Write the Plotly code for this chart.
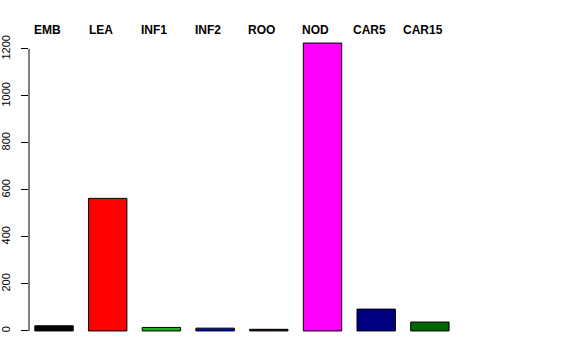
import plotly.graph_objects as go

categories = ["EMB", "LEA", "INF1", "INF2", "ROO", "NOD", "CAR5", "CAR15"]
values = [22, 564, 15, 12, 7, 1225, 93, 38]
colors = ["#000000", "#FF0000", "#1FB01F", "#0000CD", "#3A1A1A", "#FF00FF", "#000080", "#006400"]
y_ticks = [0, 200, 400, 600, 800, 1000, 1200]

positions = list(range(len(categories)))

fig = go.Figure()
fig.add_trace(go.Bar(
    x=positions, y=values, width=0.715,
    marker=dict(color=colors, line=dict(color="#000000", width=1)),
    hoverinfo="skip", showlegend=False,
))

for p, c in zip(positions, categories):
    fig.add_annotation(x=p - 0.13, y=1.0, xref="x", yref="paper", yshift=2,
                       text="<b>%s</b>" % c, showarrow=False,
                       font=dict(size=12, color="#000000"), yanchor="middle",
                       xanchor="center")

fig.add_shape(type="line", xref="paper", yref="y", x0=0, x1=0, y0=0, y1=1200,
              line=dict(color="#000000", width=1))

fig.update_layout(
    width=576, height=360,
    margin=dict(l=29, r=21, t=32, b=18, autoexpand=False),
    paper_bgcolor="white", plot_bgcolor="white",
    font=dict(family="Liberation Sans, Arial, sans-serif", color="#000000"),
    xaxis=dict(range=[-0.466, 9.33], showticklabels=False, showgrid=False,
               zeroline=False, showline=False, ticks="", automargin=False),
    yaxis=dict(range=[-47, 1272], tickvals=y_ticks, ticktext=[str(v) for v in y_ticks],
               tickangle=-90, ticks="outside", ticklen=7, tickcolor="#000000",
               showgrid=False, zeroline=False, showline=False, automargin=False,
               tickfont=dict(size=11), ticklabelstandoff=7),
)
fig.write_html("out.html")
